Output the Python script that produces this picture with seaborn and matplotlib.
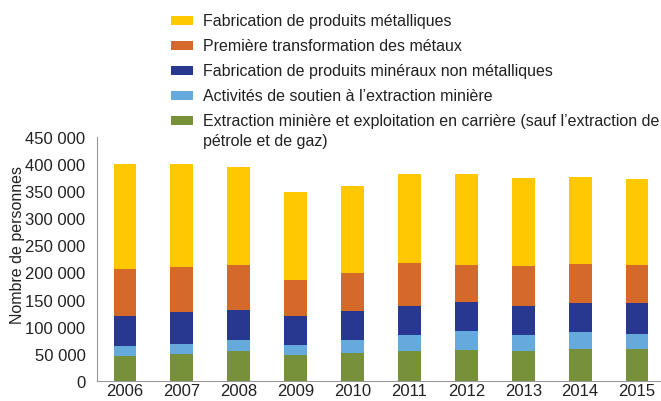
import numpy as np
import pandas as pd
import matplotlib
matplotlib.use("Agg")
import matplotlib.pyplot as plt
import matplotlib.ticker as mticker
from matplotlib.patches import Rectangle
import seaborn as sns

years = ["2006", "2007", "2008", "2009", "2010", "2011", "2012", "2013", "2014", "2015"]

# stacked segments, bottom to top
extraction = [46500, 50200, 54000, 48400, 52100, 54600, 56400, 54600, 58300, 58300]
soutien = [18000, 18000, 20400, 18000, 22900, 30400, 34800, 30400, 31000, 28500]
mineraux = [55800, 58300, 55800, 52700, 53400, 53900, 53900, 53900, 54000, 56500]
metaux = [86800, 83100, 83800, 66300, 70700, 78800, 68900, 73200, 72500, 70700]
produits_metal = [194200, 191700, 181000, 163800, 161200, 165000, 168700, 162500, 161300, 158700]

labels = [
    "Extraction minière et exploitation en carrière (sauf l’extraction de\npétrole et de gaz)",
    "Activités de soutien à l’extraction minière",
    "Fabrication de produits minéraux non métalliques",
    "Première transformation des métaux",
    "Fabrication de produits métalliques",
]
colors = ["#77903A", "#65A9DD", "#283891", "#D4692A", "#FFC800"]

sns.set_style("white")
plt.rcParams["font.family"] = ["Liberation Sans", "DejaVu Sans"]

W, H = 661, 402
fig = plt.figure(figsize=(W / 100, H / 100), dpi=100)
ax = fig.add_axes([96.5 / W, 20.3 / H, 569 / W, 243.5 / H])

series = [extraction, soutien, mineraux, metaux, produits_metal]
bottom = np.zeros(len(years))
for vals, lab, col in zip(series, labels, colors):
    df = pd.DataFrame({"year": years, "value": vals})
    sns.barplot(data=df, x="year", y="value", bottom=bottom, color=col,
                width=0.40, ax=ax, saturation=1, linewidth=0)
    bottom = bottom + np.array(vals)

ax.set_xlim(-0.5, len(years) - 0.5)
ax.set_ylim(0, 450000)
ax.yaxis.set_major_locator(mticker.MultipleLocator(50000))
ax.yaxis.set_major_formatter(mticker.FuncFormatter(
    lambda v, p: f"{int(v):,}".replace(",", " ")))
ax.set_xlabel("")
ax.set_ylabel("Nombre de personnes", fontsize=11.5, color="#222222")
ax.yaxis.set_label_coords(-0.126, 0.561)
ax.set_xticks(np.arange(len(years)))
ax.set_xticklabels(years)
ax.set_xticks(np.arange(len(years) + 1) - 0.5, minor=True)
ax.tick_params(axis="x", which="major", length=0, labelsize=12, pad=2, labelcolor="#222222")
ax.tick_params(axis="x", which="minor", length=5, color="#999999", direction="out")
ax.tick_params(axis="y", length=5, color="#999999", direction="out", labelsize=12, pad=3,
               labelcolor="#222222")
for s in ["top", "right"]:
    ax.spines[s].set_visible(False)
for s in ["left", "bottom"]:
    ax.spines[s].set_color("#999999")
    ax.spines[s].set_linewidth(0.8)

# legend, top entry first, handle aligned with the first text line
row_y = [21.7, 46.7, 71.7, 96.7, 121.7]
for y, lab, col in zip(row_y, labels[::-1], colors[::-1]):
    fig.patches.append(Rectangle((171 / W, 1 - (y + 4.5) / H), 22 / W, 9 / H,
                                 transform=fig.transFigure, facecolor=col,
                                 edgecolor="none"))
    fig.text(203 / W, 1 - (y - 8) / H, lab, ha="left", va="top",
             fontsize=11.5, color="#222222", linespacing=1.45)

fig.savefig("out.png", dpi=100)
